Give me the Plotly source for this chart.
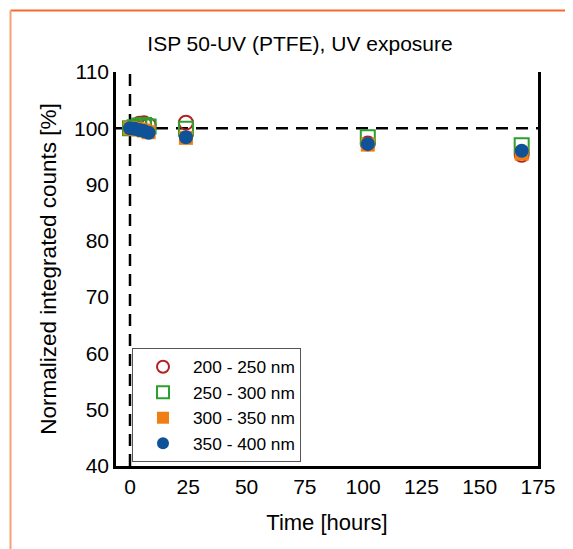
import plotly.graph_objects as go

time_h = [0, 2, 4, 6, 8, 24, 102, 168]
s200_250 = [100.0, 100.3, 100.8, 100.9, 100.6, 101.0, 97.3, 95.3]
s250_300 = [100.0, 100.2, 100.5, 100.6, 100.3, 99.9, 98.4, 97.0]
s300_350 = [100.0, 99.9, 99.8, 99.6, 99.3, 98.3, 97.1, 95.5]
s350_400 = [100.0, 99.9, 99.7, 99.5, 99.2, 98.4, 97.2, 96.0]
series_names = ["200 - 250 nm", "250 - 300 nm", "300 - 350 nm", "350 - 400 nm"]
x_ticks = [0, 25, 50, 75, 100, 125, 150, 175]
y_ticks = [40, 50, 60, 70, 80, 90, 100, 110]

# page body has an 8px default margin; figure is sized to fit inside
OFF = 8
W, H = 573 - OFF, 549 - OFF
ML, MT = 116 - OFF, 72 - OFF
PW, PH = 422, 394
MR = W - ML - PW
MB = H - MT - PH

def px(xpage):
    return (xpage - OFF - ML) / PW

def py(ypage):
    return 1 - (ypage - OFF - MT) / PH

fig = go.Figure()
styles = [
    dict(symbol="circle-open", color="#B22222", line=dict(width=2, color="#B22222")),
    dict(symbol="square-open", color="#2E9E2E", line=dict(width=2, color="#2E9E2E")),
    dict(symbol="square", color="#F07F13", line=dict(width=0)),
    dict(symbol="circle", color="#0F5298", line=dict(width=0)),
]
for name, vals, st in zip(series_names, [s200_250, s250_300, s300_350, s350_400], styles):
    fig.add_trace(go.Scatter(
        x=time_h, y=vals, mode="markers", name=name,
        marker=dict(size=14, symbol=st["symbol"], color=st["color"], line=st["line"]),
    ))

# dashed reference lines
fig.add_shape(type="line", xref="paper", yref="y", x0=0, x1=1, y0=100, y1=100,
              line=dict(color="black", width=2.5, dash="12px,8px"), layer="below")
fig.add_shape(type="line", xref="x", yref="paper", x0=0, x1=0, y0=0, y1=1,
              line=dict(color="black", width=2.5, dash="12px,8px"), layer="below")

# orange page frame
fig.add_shape(type="line", xref="paper", yref="paper", x0=px(10.5), x1=px(573), y0=py(10.5), y1=py(10.5),
              line=dict(color="#F26B2B", width=2))
fig.add_shape(type="line", xref="paper", yref="paper", x0=px(10.5), x1=px(10.5), y0=py(10.5), y1=py(549),
              line=dict(color="#F5A07A", width=2))

fig.update_layout(
    width=W, height=H,
    margin=dict(l=ML, r=MR, t=MT, b=MB),
    paper_bgcolor="white", plot_bgcolor="white",
    font=dict(family="Liberation Sans, Arial, sans-serif", color="black"),
    title=dict(text="ISP 50-UV (PTFE), UV exposure", x=(300 - OFF) / W, xanchor="center",
               y=1 - (44 - OFF) / H, yanchor="middle", font=dict(size=21)),
    xaxis=dict(range=[-6, 175], tickvals=x_ticks, ticktext=[str(v) for v in x_ticks],
               showgrid=False, zeroline=False, showline=True, linecolor="black", linewidth=2.5,
               ticks="", tickfont=dict(size=21),
               title=dict(text="Time [hours]", font=dict(size=22), standoff=18)),
    yaxis=dict(range=[40, 110], tickvals=y_ticks, ticktext=[str(v) for v in y_ticks],
               showgrid=False, zeroline=False, showline=True, linecolor="black", linewidth=2.5,
               mirror=True, ticks="", tickfont=dict(size=21),
               title=dict(text="Normalized integrated counts [%]", font=dict(size=22.5), standoff=12)),
    legend=dict(x=px(132), y=py(462), xanchor="left", yanchor="bottom",
                bgcolor="white", bordercolor="#555555", borderwidth=1,
                font=dict(size=17.3), itemsizing="constant", itemwidth=50, tracegroupgap=0),
    showlegend=True,
)

fig.write_html("out.html")
